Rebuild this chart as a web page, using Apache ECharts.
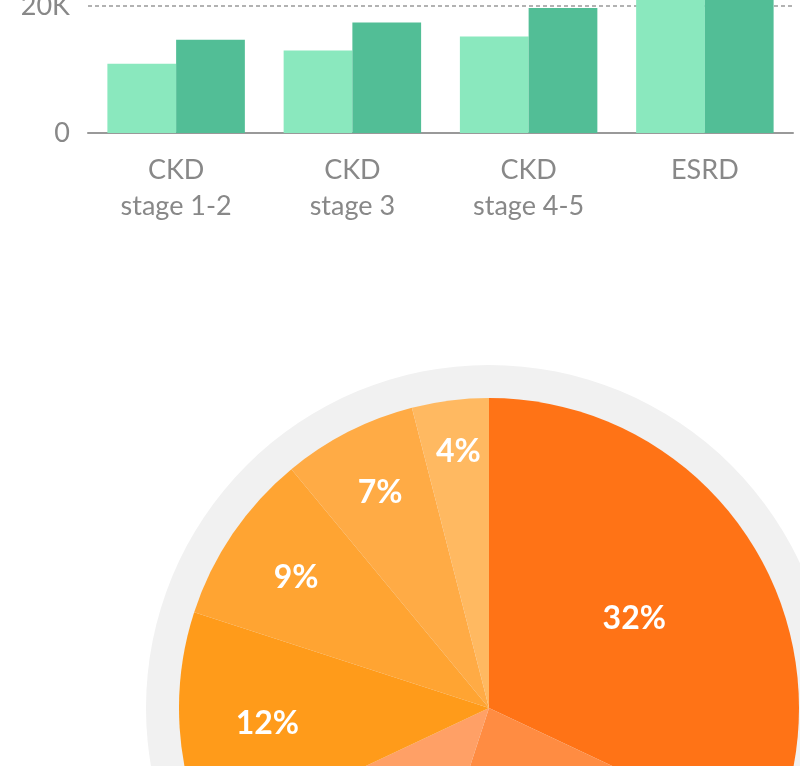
<!DOCTYPE html>
<html><head><meta charset="utf-8">
<script src="https://cdn.jsdelivr.net/npm/echarts@6/dist/echarts.min.js"></script>
<style>html,body{margin:0;padding:0;background:#fff;overflow:hidden}#c{width:800px;height:766px}</style>
</head><body><div id="c"></div>
<script>
// ---- data ----
const categories = ['CKD\nstage 1-2', 'CKD\nstage 3', 'CKD\nstage 4-5', 'ESRD'];
const seriesLight = [10900, 13000, 15200, 24000];
const seriesDark = [14700, 17400, 19700, 29000];
const yTickStep = 20000;
const yMax = 20000;
const pieValues = [32, 23, 13, 12, 9, 7, 4];

// ---- styles / layout ----
const pieColors = ['#ff7316', '#ff8c42', '#ffa066', '#ff9b1a', '#ffa432', '#ffab45', '#ffb961'];
const FONT = 'Lato, "Open Sans", sans-serif';
const CX = 489, CY = 708, R = 310, RING = 343;

const total = pieValues.reduce((a, b) => a + b, 0);

const chart = echarts.init(document.getElementById('c'), null, { renderer: 'canvas' });
chart.setOption({
  animation: false,
  backgroundColor: '#fff',
  grid: { left: 88, right: 7, top: 6, bottom: 633, containLabel: false, outerBoundsMode: 'none' },
  xAxis: {
    type: 'category',
    data: categories,
    axisTick: { show: false },
    axisLine: { lineStyle: { color: '#999', width: 2 } },
    axisLabel: { color: '#888', fontSize: 27, lineHeight: 36, margin: 19, fontFamily: FONT }
  },
  yAxis: {
    type: 'value',
    min: 0, max: yMax, interval: yTickStep,
    axisLine: { show: false },
    axisTick: { show: false },
    axisLabel: {
      color: '#888', fontSize: 27, margin: 18, fontFamily: FONT,
      formatter: v => v === 0 ? '0' : (v / 1000) + 'K'
    },
    splitLine: { lineStyle: { type: [4, 3], color: '#999', width: 1.5 } }
  },
  series: [
    {
      type: 'bar', data: seriesLight, barGap: '0%', barCategoryGap: '22%', clip: false,
      itemStyle: { color: '#8ae8be' }, silent: true
    },
    {
      type: 'bar', data: seriesDark, clip: false,
      itemStyle: { color: '#52be96' }, silent: true
    },
    {
      type: 'pie', center: [CX, CY], radius: [0, RING], silent: true, z: 1,
      data: [{ value: 1, itemStyle: { color: '#f1f1f1' } }],
      label: { show: false }, labelLine: { show: false }, emphasis: { disabled: true }
    },
    {
      type: 'pie', center: [CX, CY], radius: [0, R], startAngle: 90, clockwise: true, z: 2,
      silent: true,
      data: pieValues.map((v, i) => ({ value: v, itemStyle: { color: pieColors[i], borderWidth: 0 } })),
      label: {
        show: true, position: 'inside', color: '#fff', fontSize: 32, fontWeight: 'bold',
        fontFamily: FONT, formatter: '{c}%'
      },
      labelLine: { show: false },
      emphasis: { disabled: true },
      labelLayout: function (params) {
        const i = params.dataIndex;
        let cum = 0;
        for (let k = 0; k < i; k++) cum += pieValues[k];
        const p = pieValues[i];
        const th = 2 * Math.PI * (cum + p / 2) / total;
        const rl = R * (1 - 0.08 * Math.sqrt(p / total * 100));
        return { x: CX + 2 + rl * Math.sin(th), y: CY + 2 - rl * Math.cos(th), align: 'center', verticalAlign: 'middle' };
      }
    }
  ]
});
</script>
</body></html>
